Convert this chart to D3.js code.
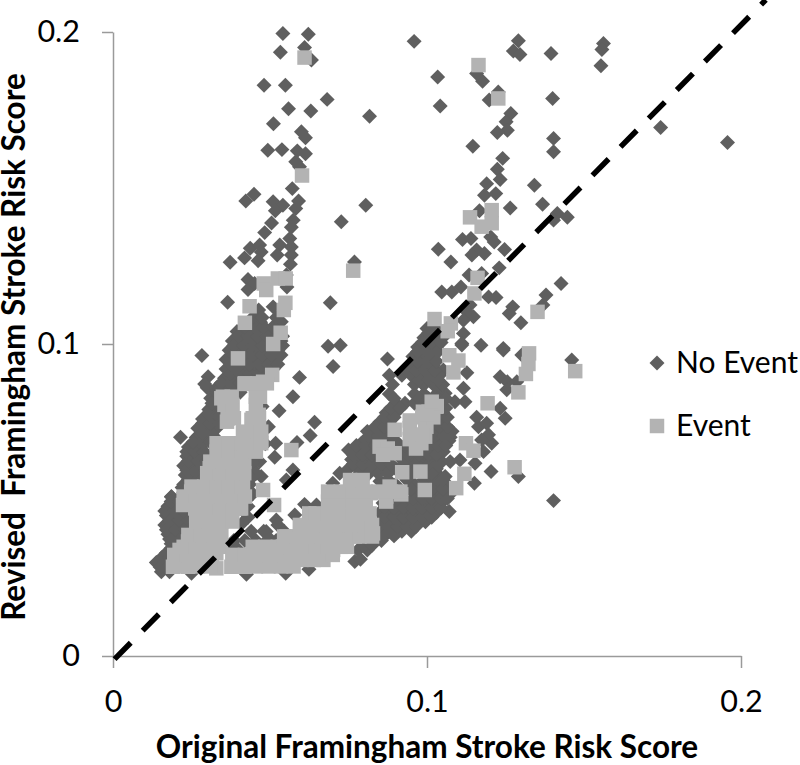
<!DOCTYPE html>
<html>
<head>
<meta charset="utf-8">
<script src="https://cdn.jsdelivr.net/npm/d3@7"></script>
<style>
  body { margin: 0; background: #fff; }
  text { font-family: Lato, "Open Sans", sans-serif; fill: #000; }
</style>
</head>
<body>
<div id="chart"></div>
<script>
const xTicks = [0, 0.1, 0.2];
const yTicks = [0, 0.1, 0.2];
const xTitle = "Original Framingham Stroke Risk Score";
const yTitle = "Revised  Framingham Stroke Risk Score";
const legendLabels = ["No Event", "Event"];
const refLine = [[0.0005, -0.001], [0.2079, 0.2103]];

// [original, revised]
const noEventSparse = [
  [.0541,.1995],[.0622,.1993],[.0533,.1935],[.061,.195],[.0632,.191],[.0481,.1829],[.0549,.1829],[.0682,.1784],
  [.0559,.1754],[.063,.1747],[.0817,.173],[.0511,.1706],[.06,.168],[.0613,.1661],[.0493,.1621],[.0538,.1623],
  [.0587,.1619],[.0613,.161],[.0582,.1584],[.0594,.1568],[.0571,.1498],[.0449,.148],[.0423,.1458],[.051,.1456],
  [.0591,.1458],[.0541,.1445],[.0517,.1427],[.0582,.1434],[.0805,.1445],[.0727,.1392],[.0574,.1397],[.0505,.1388],
  [.0568,.1374],[.0483,.1357],[.0563,.1338],[.0437,.1307],[.0467,.1317],[.0531,.1317],[.0568,.1311],[.0472,.1295],
  [.0419,.1276],[.0373,.1262],[.0462,.1267],[.0523,.1285],[.0568,.1285],[.0565,.1256],[.0769,.1263],[.0552,.1221],
  [.043,.1207],[.043,.1175],[.0554,.1183],[.0451,.1194],[.0365,.1134],[.0692,.1132],[.051,.1119],[.0464,.1109],
  [.0467,.1066],[.0536,.1071],[.0685,.0993],[.0724,.0996],[.0959,.197],
  [.0283,.0963],[.0303,.0895],[.0292,.0872],[.0311,.0826],[.0308,.0783],[.0594,.0893],[.0573,.0831],[.0529,.0786],
  [.0642,.0749],[.0628,.0707],[.0215,.0701],[.0518,.0682],[.0586,.0684],[.0515,.0637],[.0573,.0596],[.0552,.0564],
  [.0701,.0928],[.0874,.0952],[.061,.0486],[.0579,.0452],[.052,.0436],[.0488,.0399],[.077,.0303],[.0788,.031],
  [.0624,.0278],[.0186,.0511],[.0467,.0623],[.0472,.0575],[.0791,.0682],[.0722,.0586],[.07,.0554],[.0648,.0484],
  [.1034,.1856],[.1042,.1763],[.1291,.1972],[.1275,.1939],[.1296,.1928],[.1395,.1931],[.1562,.1963],[.1557,.1944],
  [.1554,.1892],[.1177,.1842],[.1158,.1867],[.1227,.1808],[.1198,.1782],[.14,.1787],[.1267,.1739],[.1252,.1712],
  [.1256,.1685],[.1224,.1678],[.1146,.1634],[.1403,.1659],[.1403,.1616],[.1744,.1694],[.1957,.1646],[.1241,.1595],
  [.1224,.156],[.1233,.1527],[.119,.1514],[.1183,.1477],[.1219,.1482],[.1342,.1509],[.1368,.1448],[.1265,.1436],
  [.1167,.1427],[.1415,.1418],[.1403,.1397],[.1447,.1406],[.1113,.1335],[.114,.1338],[.1203,.1343],[.1214,.1327],
  [.1036,.1304],[.1076,.1263],[.1158,.1301],[.1143,.1285],[.1183,.129],[.1247,.1303],[.123,.1244],[.1134,.1221],
  [.1174,.1226],[.1108,.1183],[.1079,.1167],[.1047,.1167],[.1427,.1194],[.1379,.1157],[.1369,.1125],[.1196,.1151],
  [.122,.1149],[.1273,.1119],[.1262,.1098],[.1299,.1068],[.1137,.1125],[.1127,.1103],[.1148,.1087],[.1116,.1076],
  [.1005,.105],[.1116,.1034],[.1111,.1002],[.1172,.0996],[.1243,.0986],
  [.1071,.0463],[.1042,.0489],[.101,.0468],[.0983,.0441],[.1403,.0498],[.1291,.0575],[.1204,.0591],[.1151,.0554],
  [.1153,.0618],[.118,.0655],[.1206,.0682],[.1196,.0709],[.1164,.0735],[.119,.0746],[.1158,.0765],[.1249,.0762],
  [.1233,.0794],[.1174,.0692],[.1105,.0628],[.1074,.0623],[.1052,.0655],[.1074,.0701],[.1042,.0719],[.102,.0671],
  [.1116,.0858],[.1121,.0815],[.1089,.0815],[.1058,.0842],[.1127,.0908],[.1233,.0895],[.1256,.0879],[.1254,.0853],
  [.1286,.0879],[.1243,.0981],[.1302,.0965],[.1461,.0949],[.1111,.0997],[.0994,.0949],[.101,.0906],[.0989,.0869],
  [.1042,.0869],[.1052,.0917],[.1042,.0618],[.1031,.0586],[.1058,.0575],[.1042,.0532]
];

const noEventWedge = [
  [.0154,.027],[.018,.027],[.025,.0265],[.0138,.03],[.0165,.03],[.017,.033],[.0195,.033],[.0185,.036],[.0215,.036],
  [.0175,.039],[.0205,.039],[.0235,.039],[.0165,.042],[.0195,.042],[.0225,.042],[.0255,.042],[.0285,.042],
  [.017,.045],[.02,.045],[.023,.045],[.0175,.048],[.0205,.048],[.0186,.051],[.0215,.051],[.024,.054],[.022,.054],
  [.0225,.055],[.0255,.055],[.023,.058],[.026,.058],[.029,.058],[.0225,.061],[.0255,.061],[.0285,.061],
  [.0235,.064],[.0265,.064],[.0295,.064],[.024,.067],[.028,.067],[.0265,.07],[.0295,.07],[.0325,.07],
  [.027,.073],[.03,.073],[.033,.073],[.0285,.076],[.0315,.076],[.0305,.079],[.0335,.079],[.0365,.079],
  [.032,.083],[.035,.083],[.03,.086],[.033,.086],[.036,.086],[.039,.086],[.0355,.089],[.0385,.089],[.0415,.089],
  [.0445,.089],[.0475,.089],[.036,.092],[.039,.092],[.042,.092],[.045,.092],[.048,.092],[.051,.092],
  [.036,.095],[.043,.095],[.046,.095],[.049,.095],[.052,.095],[.037,.098],[.04,.098],[.043,.098],[.046,.098],
  [.049,.098],[.0525,.098],[.038,.101],[.041,.101],[.044,.101],[.047,.101],[.05,.101],[.0535,.101],
  [.0395,.104],[.0425,.104],[.0455,.104],[.049,.104],[.0525,.104],[.044,.107],[.047,.107],[.053,.107],
  [.0495,.0735],[.0485,.068],[.0475,.08],[.0445,.06],[.0435,.055],[.0425,.05],[.041,.047],
  [.0385,.037],[.042,.037],[.0455,.037],[.049,.037],[.052,.037],[.037,.034],[.04,.034],[.044,.034],
  [.044,.04],[.048,.04],[.0525,.042],[.0545,.04],[.05,.0375],[.0425,.0262],[.055,.0265],
  [.015,.0285],[.0175,.0285],[.0155,.0315],[.018,.0315],[.0185,.0345],[.0205,.0345],[.018,.0375],[.0195,.0375],[.022,.0375],
  [.017,.0405],[.02,.0405],[.023,.0405],[.018,.0435],[.021,.0435],[.024,.0435],[.027,.0435],[.0165,.0465],[.0195,.0465],[.0225,.0465],
  [.0185,.0495],[.021,.0495],[.0225,.0525],[.025,.0525],[.024,.0565],[.027,.0565],[.0235,.0595],[.0265,.0595],[.0295,.0595],
  [.024,.0625],[.027,.0625],[.03,.0625],[.0235,.0655],[.026,.0655],[.029,.0655],[.032,.0655],[.0255,.0685],[.0285,.0685],[.031,.0685],
  [.0285,.0715],[.0315,.0715],[.0285,.0745],[.031,.0745],[.034,.0745],[.0305,.0775],[.0335,.0775],[.0345,.0775],[.0315,.081],[.0345,.081],
  [.033,.0845],[.0355,.0845],[.0385,.0845],[.0405,.0845],[.0345,.0875],[.0375,.0875],[.0405,.0875],[.0435,.0875],
  [.0375,.0905],[.0405,.0905],[.0435,.0905],[.0465,.0905],[.0495,.0905],[.0375,.0935],[.0405,.0935],[.0435,.0935],[.0465,.0935],[.0495,.0935],[.0525,.0935],
  [.0385,.0965],[.0415,.0965],[.0445,.0965],[.0475,.0965],[.0505,.0965],[.0535,.0965],[.0385,.0995],[.0415,.0995],[.0445,.0995],[.0475,.0995],[.0505,.0995],[.054,.0995],
  [.04,.1025],[.043,.1025],[.046,.1025],[.049,.1025],[.052,.1025],[.054,.1025],[.042,.1055],[.045,.1055],[.048,.1055],[.051,.1055],[.0445,.1085],[.0475,.1085],[.052,.1085],
  [.0445,.062],[.0455,.0585],[.044,.057],[.0445,.052],[.043,.048],[.043,.0445],[.041,.0425]
];

const noEventBand = [
  [.078,.034],[.081,.034],[.083,.037],[.0855,.037],[.086,.04],[.089,.04],[.092,.04],[.095,.04],
  [.085,.043],[.088,.043],[.091,.043],[.094,.043],[.097,.043],[.0995,.043],
  [.085,.046],[.088,.046],[.091,.046],[.094,.046],[.097,.046],[.1,.046],[.103,.046],
  [.086,.049],[.089,.049],[.092,.049],[.095,.049],[.098,.049],[.101,.049],[.104,.049],
  [.09,.052],[.096,.052],[.102,.052],[.105,.052],[.1075,.052],[.09,.055],[.096,.055],[.1,.055],[.1035,.055],[.1065,.055],
  [.085,.056],[.088,.056],[.075,.06],[.078,.06],[.081,.06],[.084,.06],[.087,.06],[.09,.06],[.095,.06],[.1,.06],[.103,.06],
  [.076,.063],[.079,.063],[.082,.063],[.092,.063],[.095,.063],[.098,.063],[.101,.063],[.104,.063],
  [.075,.066],[.078,.066],[.081,.066],[.0925,.066],[.096,.066],[.099,.066],[.102,.066],
  [.08,.069],[.083,.069],[.087,.069],[.09,.069],[.101,.069],[.104,.069],[.107,.069],
  [.081,.072],[.084,.072],[.087,.072],[.102,.072],[.105,.072],[.108,.072],[.085,.075],[.088,.075],[.102,.075],[.105,.075],
  [.087,.078],[.09,.078],[.105,.078],[.09,.081],[.093,.081],[.096,.081],[.099,.081],[.102,.081],
  [.088,.084],[.096,.084],[.099,.084],[.103,.084],[.089,.087],[.096,.087],[.099,.087],[.102,.087],[.105,.087],
  [.088,.09],[.092,.09],[.095,.09],[.098,.09],[.101,.09],[.104,.09],[.096,.093],[.099,.093],[.102,.093],
  [.0955,.096],[.0985,.096],[.1015,.096],[.097,.099],[.1,.099],[.103,.099],[.099,.102],[.102,.102],[.105,.102],[.1,.105],[.103,.105],
  [.08,.0355],[.0825,.0355],[.084,.0385],[.0865,.0385],[.0895,.0385],[.0875,.0415],[.0905,.0415],[.0935,.0415],[.0965,.0415],
  [.0865,.0445],[.0895,.0445],[.0925,.0445],[.0955,.0445],[.0985,.0445],[.1015,.0445],
  [.0865,.0475],[.0895,.0475],[.0925,.0475],[.0955,.0475],[.0985,.0475],[.1015,.0475],[.1045,.0475],
  [.0885,.0505],[.0955,.0505],[.0985,.0505],[.1015,.0505],[.1045,.0505],[.1065,.0505],[.095,.0535],[.1015,.0535],[.105,.0535],
  [.0875,.0565],[.0935,.0565],[.099,.0565],[.102,.0565],[.105,.0565],
  [.0785,.0585],[.0815,.0585],[.0845,.0585],[.0875,.0585],[.0925,.0585],[.0955,.0585],[.1015,.0585],
  [.0765,.0615],[.0795,.0615],[.0825,.0615],[.0855,.0615],[.0885,.0615],[.0925,.0615],[.0965,.0615],[.1005,.0615],[.1035,.0615],
  [.0765,.0645],[.0795,.0645],[.0825,.0645],[.094,.0645],[.0975,.0645],[.1005,.0645],[.103,.0645],
  [.0775,.0675],[.0805,.0675],[.0835,.0675],[.093,.0675],[.0965,.0675],[.1005,.0675],[.1035,.0675],[.106,.0675],
  [.0815,.0705],[.0845,.0705],[.0875,.0705],[.1025,.0705],[.1055,.0705],[.0835,.0735],[.0865,.0735],[.104,.0735],[.1065,.0735],
  [.0865,.0765],[.0895,.0765],[.1065,.0765],[.0885,.0795],[.0915,.0795],[.1035,.0795],[.106,.0795],
  [.0895,.0825],[.0975,.0825],[.1005,.0825],[.1035,.0825],[.106,.0825],[.0975,.0885],[.1005,.0885],[.1035,.0885],
  [.0935,.0915],[.0965,.0915],[.0995,.0915],[.1025,.0915],[.097,.0945],[.1,.0945],[.103,.0945],
  [.097,.0975],[.1,.0975],[.1035,.0975],[.0985,.1005],[.1015,.1005],[.1045,.1005],[.1005,.1035],[.1035,.1035]
];

const eventPoints = [
  [.061,.1918],[.0602,.154],[.0765,.1235],[.048,.1194],[.0488,.1173],[.0525,.121],[.055,.121],[.0435,.1121],
  [.0549,.1132],[.0544,.1109],[.042,.1068],[.0534,.1036],[.051,.1],[.1024,.108],
  [.0398,.0954],[.0419,.0872],[.0507,.0901],[.0478,.0879],[.0456,.0842],[.0345,.0826],[.038,.0799],[.0363,.0751],
  [.0464,.0773],[.0441,.0757],[.0414,.0714],[.0472,.0692],[.0435,.0671],[.0345,.0673],[.0361,.065],[.0409,.0634],
  [.0382,.0618],[.0308,.0602],[.0318,.0564],[.0361,.0586],[.0414,.0554],[.0361,.0543],[.0249,.0527],[.0297,.0522],
  [.0223,.0484],[.035,.05],[.0403,.0473],[.0265,.0447],[.0318,.0468],[.0366,.0447],[.0478,.0532],[.0513,.0484],
  [.0568,.066],[.0239,.0367],[.0287,.0383],[.034,.0404],[.0212,.034],[.0255,.0329],[.0303,.0345],[.0191,.0286],
  [.0239,.0286],[.0287,.0292],[.0329,.0281],[.0329,.0329],
  [.0377,.0286],[.0419,.0286],[.0467,.0292],[.0515,.0297],[.0563,.0303],[.061,.0313],[.0658,.0319],[.0701,.034],
  [.0446,.0329],[.0494,.034],[.0541,.0351],[.0589,.0361],[.0637,.0372],[.0552,.0383],[.06,.0399],[.0626,.0441],
  [.0648,.0415],[.069,.0383],[.0743,.0356],[.077,.0383],[.0828,.0393],[.0796,.0404],[.0679,.0452],[.0722,.0473],
  [.0759,.0425],[.0817,.0457],[.069,.0511],[.0732,.0511],[.0775,.0559],[.078,.0511],[.0823,.0522],[.087,.0511],
  [.0881,.0543],[.0918,.0518],[.0993,.0532],[.0921,.0589],[.0979,.0591],[.0849,.0671],[.0897,.065],[.0897,.0725],
  [.0945,.073],[.0982,.0682],[.0987,.0783],[.103,.0799],[.0998,.0735],
  [.1071,.0964],[.11,.0947],[.1084,.0909],[.1325,.097],[.1323,.0936],[.1315,.0904],[.1472,.0913],[.1291,.0845],
  [.1193,.081],[.1031,.0801],[.1005,.0783],[.0994,.0746],[.0994,.0703],[.1124,.0682],[.1148,.0658],[.1279,.0605],
  [.1119,.0584],[.1093,.0538],
  [.1164,.1894],[.1227,.1787],[.1206,.1429],[.1206,.1387],[.1137,.1406],[.1174,.1376],[.1161,.1212],[.1151,.1162],
  [.1352,.1103],[.1076,.1066],[.1066,.1041]
];

const eventDense = [
  [.023,.0287],[.027,.0287],[.031,.0287],[.0195,.0324],[.0235,.0324],[.0275,.0324],[.0315,.0324],
  [.0225,.035],[.0265,.035],[.0305,.035],[.0345,.035],[.024,.0388],[.028,.0388],[.032,.0388],[.0345,.0388],
  [.0265,.0431],[.0305,.0431],[.0345,.0431],[.038,.0431],[.0262,.0473],[.03,.0473],[.034,.0473],[.038,.0473],[.0408,.0473],
  [.0225,.0511],[.0265,.0511],[.0305,.0511],[.0345,.0511],[.0385,.0511],[.042,.0511],
  [.025,.0543],[.029,.0543],[.033,.0543],[.037,.0543],[.041,.0543],[.03,.0586],[.034,.0586],[.038,.0586],[.0418,.0586],
  [.031,.0623],[.035,.0623],[.039,.0623],[.0418,.0623],[.033,.0655],[.037,.0655],[.041,.0655],[.0455,.0655],
  [.033,.0682],[.037,.0682],[.041,.0682],[.045,.0682],[.0472,.0682],[.0415,.0719],[.0455,.0719],[.0472,.0719],
  [.0365,.0762],[.0385,.0762],[.0445,.0762],[.0465,.0762],[.0355,.0805],[.038,.0805],[.0455,.0805],
  [.035,.0831],[.0378,.0831],[.0455,.0831],[.0468,.0831],[.042,.0874],[.046,.0874],[.049,.0874],
  [.0415,.0287],[.0455,.0287],[.0495,.0287],[.0535,.0287],[.0575,.0287],[.06,.0308],[.064,.0308],[.067,.0308],
  [.038,.0324],[.042,.0324],[.046,.0324],[.05,.0324],[.054,.0324],[.058,.0324],[.062,.0324],[.066,.0324],[.07,.0324],
  [.0445,.035],[.0485,.035],[.0525,.035],[.0565,.035],[.0605,.035],[.0645,.035],[.0685,.035],[.0725,.035],[.0745,.035],
  [.0545,.0383],[.0585,.0383],[.0625,.0383],[.0665,.0383],[.0705,.0383],[.0745,.0383],[.0785,.0383],[.0825,.0383],
  [.0595,.042],[.0635,.042],[.0675,.042],[.0715,.042],[.0755,.042],[.0795,.042],[.0825,.042],
  [.0625,.0457],[.0645,.0457],[.0685,.0457],[.0725,.0457],[.0765,.0457],[.0805,.0457],
  [.0685,.0495],[.0725,.0495],[.0765,.0495],[.0805,.0495],[.087,.0495],
  [.0685,.0527],[.0725,.0527],[.0765,.0527],[.0805,.0527],[.0845,.0527],[.0885,.0527],[.0915,.0527],[.0755,.0564],[.0795,.0564],
  [.0945,.0695],[.0945,.0755],[.0985,.0765],[.0965,.0665],[.0985,.071],[.102,.0765],[.1,.0775],[.1015,.0815],[.0875,.0665],[.086,.0645]
];

const width = 800, height = 765;

const x = d3.scaleLinear().domain([0, 0.2]).range([113, 741]);
const y = d3.scaleLinear().domain([0, 0.2]).range([656, 32]);

const svg = d3.select("#chart").append("svg")
  .attr("width", width)
  .attr("height", height)
  .style("display", "block");

const diamond = d3.symbol().type(d3.symbolSquare).size(112);
const square = d3.symbol().type(d3.symbolSquare).size(210);
const dark = "#5f5f5f", light = "#b3b3b3";

// axes
const xAxis = svg.append("g")
  .attr("transform", `translate(0,${y(0)})`)
  .call(d3.axisBottom(x).tickValues(xTicks).tickSize(12).tickSizeOuter(0).tickPadding(22).tickFormat(d => d));
const yAxis = svg.append("g")
  .attr("transform", `translate(${x(0)},0)`)
  .call(d3.axisLeft(y).tickValues(yTicks).tickSize(11).tickSizeOuter(0).tickPadding(22).tickFormat(d => d));

xAxis.selectAll("text").style("font-size", "30.5px");
yAxis.selectAll("text").style("font-size", "30.5px");
svg.selectAll("g path.domain, g .tick line").attr("stroke", "#9a9a9a").attr("stroke-width", 1.5);

// no event points go underneath
svg.append("g").selectAll("path")
  .data(noEventSparse.concat(noEventWedge, noEventBand))
  .enter()
  .append("path")
  .attr("d", diamond)
  .attr("transform", d => `translate(${x(d[0])},${y(d[1])}) rotate(45)`)
  .attr("fill", dark);

svg.append("g").selectAll("path")
  .data(eventPoints.concat(eventDense))
  .enter()
  .append("path")
  .attr("d", square)
  .attr("transform", d => `translate(${x(d[0])},${y(d[1])})`)
  .attr("fill", light);

// dashed reference line
svg.append("path")
  .attr("d", d3.line().x(d => x(d[0])).y(d => y(d[1]))(refLine))
  .attr("fill", "none")
  .attr("stroke", "#000")
  .attr("stroke-width", 5.5)
  .attr("stroke-dasharray", "23 17");

// titles
svg.append("text")
  .attr("x", 427)
  .attr("y", 758)
  .attr("text-anchor", "middle")
  .style("font-size", "31.5px")
  .style("font-weight", "bold")
  .text(xTitle);

svg.append("text")
  .attr("transform", "translate(25,347) rotate(-90)")
  .attr("text-anchor", "middle")
  .attr("xml:space", "preserve")
  .style("white-space", "pre")
  .style("font-size", "31.5px")
  .style("font-weight", "bold")
  .text(yTitle);

// legend
svg.append("path")
  .attr("d", diamond)
  .attr("transform", "translate(657,363) rotate(45)")
  .attr("fill", dark);
svg.append("path")
  .attr("d", square)
  .attr("transform", "translate(657,426)")
  .attr("fill", light);
svg.selectAll(".legend-label")
  .data(legendLabels)
  .enter()
  .append("text")
  .attr("class", "legend-label")
  .attr("x", 676)
  .attr("y", (d, i) => i === 0 ? 373 : 436)
  .style("font-size", "30px")
  .text(d => d);
</script>
</body>
</html>
